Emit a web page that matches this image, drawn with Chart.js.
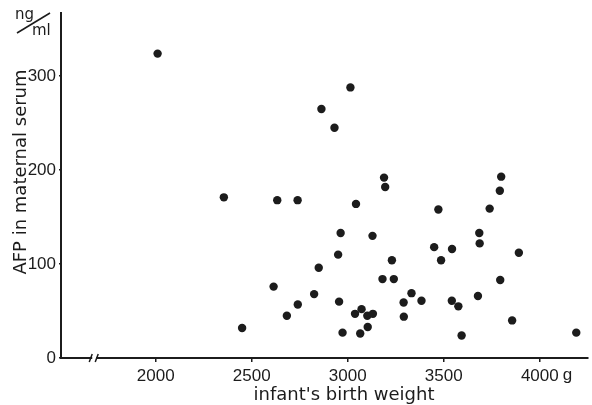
<!DOCTYPE html>
<html><head><meta charset="utf-8">
<script src="https://cdn.jsdelivr.net/npm/chart.js@4.4.0/dist/chart.umd.min.js"></script>
<style>html,body{margin:0;padding:0;background:#fff;}</style>
</head><body>
<canvas id="c" width="592" height="405"></canvas>
<script>
const birthWeight = [2010,3014,2863,2931,3189,3195,2355,2633,2739,3043,2963,3129,2950,2849,3230,3181,3240,2614,2825,2955,2740,2683,3038,3072,3102,3131,2450,3104,2973,3065,3799,3792,3472,3739,3685,3687,3450,3543,3486,3891,3794,3332,3291,3384,3542,3576,3678,3292,3856,3593,4190];
const afpSerum    = [324,288,265,245,192,182,171,168,168,164,133,130,110,96,104,84,84,76,68,60,57,45,47,52,45,47,32,33,27,26,193,178,158,159,133,122,118,116,104,112,83,69,59,61,61,55,66,44,40,24,27];
const xTickValues = [2000,2500,3000,3500,4000];
const yTickValues = [0,100,200,300];
const xTitle = "infant's birth weight";
const yTitle = "AFP in maternal serum";
const xUnit = "g";
const yUnitTop = "ng";
const yUnitBottom = "ml";

const ink = '#1c1c1c';
const points = birthWeight.map((w,i)=>({x:w, y:afpSerum[i]}));

const annotate = {
  id:'annotate',
  afterDraw(chart){
    const ctx = chart.ctx, xs = chart.scales.x, ys = chart.scales.y, ca = chart.chartArea;
    ctx.save();
    ctx.fillStyle = ink; ctx.strokeStyle = ink;
    // axis titles
    ctx.font = '18px "DejaVu Sans"';
    ctx.textAlign = 'center'; ctx.textBaseline = 'middle';
    ctx.fillText(xTitle, 344, 395);
    ctx.save();
    ctx.translate(21, 172); ctx.rotate(-Math.PI/2);
    ctx.fillText(yTitle, 0, 0);
    ctx.restore();
    // x unit after last tick
    ctx.font = '17px "Liberation Sans"';
    ctx.textAlign = 'left'; ctx.textBaseline = 'top';
    const lastTick = xs.ticks[xs.ticks.length-1];
    ctx.fillText(xUnit, xs.getPixelForValue(lastTick.value) + 23, ca.bottom + 9);
    // y unit ng/ml
    ctx.font = '15px "DejaVu Sans"';
    ctx.textAlign = 'left'; ctx.textBaseline = 'alphabetic';
    ctx.fillText(yUnitTop, 15, 19);
    ctx.fillText(yUnitBottom, 32, 35);
    ctx.lineWidth = 1.6;
    ctx.beginPath(); ctx.moveTo(17, 33); ctx.lineTo(50, 13); ctx.stroke();
    // axis break
    const bx = xs.getPixelForValue(1680), by = ca.bottom;
    ctx.fillStyle = '#fff';
    ctx.fillRect(bx-2, by-3, 4, 6);
    ctx.lineWidth = 1.5;
    ctx.beginPath();
    ctx.moveTo(bx-5, by+4); ctx.lineTo(bx-2, by-4);
    ctx.moveTo(bx+1, by+4); ctx.lineTo(bx+4, by-4);
    ctx.stroke();
    ctx.restore();
  }
};

new Chart(document.getElementById('c'), {
  type:'scatter',
  data:{datasets:[{data:points, backgroundColor:ink, borderColor:ink, pointRadius:4.2, pointHoverRadius:4.2, borderWidth:0}]},
  options:{
    responsive:false, animation:false, devicePixelRatio:1,
    layout:{padding:{top:13,right:2,left:0,bottom:0}},
    plugins:{legend:{display:false}, tooltip:{enabled:false}},
    scales:{
      x:{type:'linear', min:1507, max:4250,
        afterBuildTicks:s=>{s.ticks = xTickValues.map(v=>({value:v}));},
        afterFit:s=>{s.height = 47;},
        ticks:{font:{family:'Liberation Sans', size:17}, color:ink, padding:4, maxRotation:0, callback:v=>String(v)},
        grid:{drawOnChartArea:false, tickLength:4, color:ink, lineWidth:1.5},
        border:{color:ink, width:2}
      },
      y:{type:'linear', min:0, max:367,
        afterBuildTicks:s=>{s.ticks = yTickValues.map(v=>({value:v}));},
        afterFit:s=>{s.width = 61;},
        ticks:{font:{family:'Liberation Sans', size:17}, color:ink, padding:3, callback:v=>String(v)},
        grid:{drawOnChartArea:false, tickLength:2, color:ink, lineWidth:1.5},
        border:{color:ink, width:2}
      }
    }
  },
  plugins:[annotate]
});
</script>
</body></html>
